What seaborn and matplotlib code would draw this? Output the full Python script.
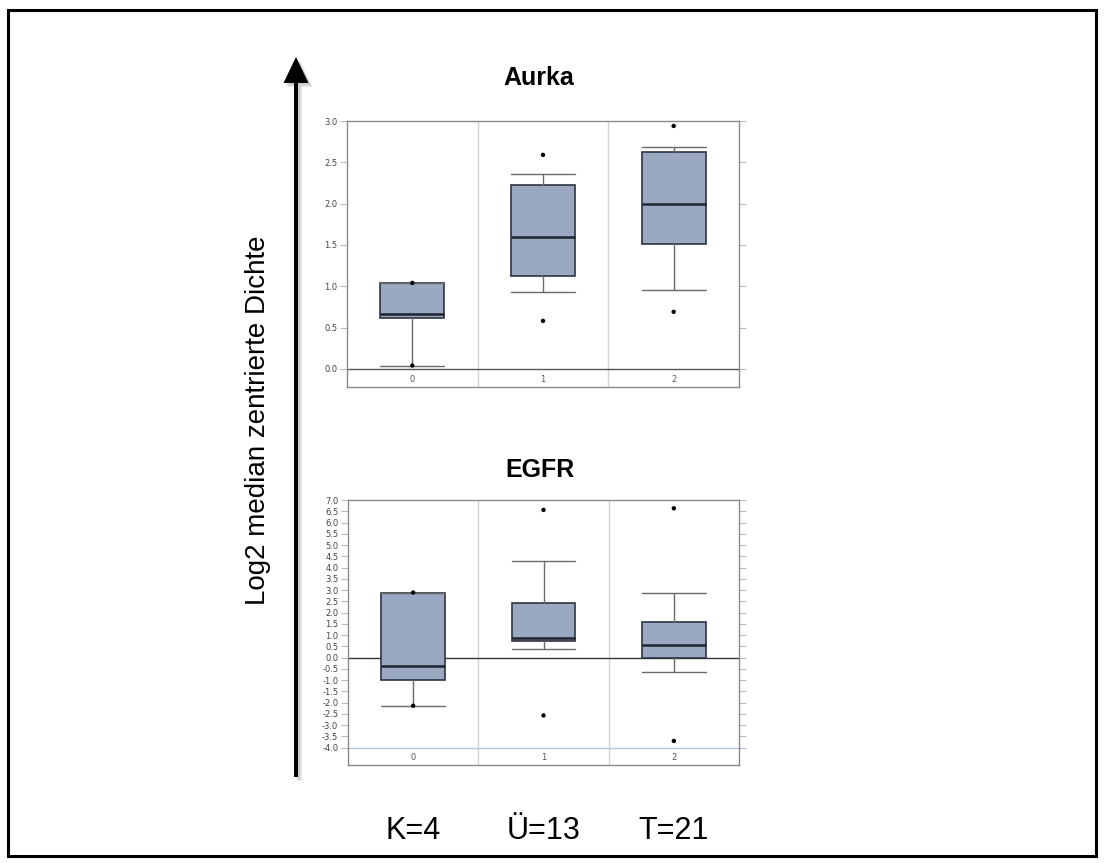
import matplotlib
matplotlib.use("Agg")
import matplotlib.pyplot as plt
import seaborn as sns
import pandas as pd
from matplotlib.patches import Rectangle, FancyArrow
from matplotlib.transforms import IdentityTransform, blended_transform_factory

sns.set_theme(style="white")
plt.rcParams["font.family"] = ["Liberation Sans", "DejaVu Sans"]

# ---------------- data ----------------
categories = ["0", "1", "2"]
group_labels = ["K=4", "Ü=13", "T=21"]
titles = ["Aurka", "EGFR"]
y_label = "Log2 median zentrierte Dichte"

aurka_whislo = [0.04, 0.93, 0.95]
aurka_q1 = [0.61, 1.12, 1.51]
aurka_med = [0.66, 1.59, 1.99]
aurka_q3 = [1.04, 2.22, 2.63]
aurka_whishi = [1.04, 2.36, 2.69]
aurka_min = [0.04, 0.58, 0.69]
aurka_max = [1.04, 2.59, 2.94]
aurka_ticks = [0.0, 0.5, 1.0, 1.5, 2.0, 2.5, 3.0]

egfr_whislo = [-2.14, 0.39, -0.63]
egfr_q1 = [-0.98, 0.74, -0.02]
egfr_med = [-0.37, 0.89, 0.58]
egfr_q3 = [2.89, 2.41, 1.59]
egfr_whishi = [2.89, 4.29, 2.89]
egfr_min = [-2.14, -2.57, -3.70]
egfr_max = [2.89, 6.56, 6.63]
egfr_ticks = [-4.0, -3.5, -3.0, -2.5, -2.0, -1.5, -1.0, -0.5, 0.0, 0.5, 1.0,
              1.5, 2.0, 2.5, 3.0, 3.5, 4.0, 4.5, 5.0, 5.5, 6.0, 6.5, 7.0]

W, H = 1104, 863
fig = plt.figure(figsize=(W / 100, H / 100), dpi=100)
fig.patch.set_facecolor("white")

BOX_FILL = "#9aa8c2"
BOX_EDGE = "#2e3442"
WHISK = "#6a6a6a"
FRAME = "#8a8a8a"


def draw_panel(ax, whislo, q1, med, q3, whishi, vmin, vmax, ticks, ylim,
               zero_color, base_line=None):
    stats = []
    for i in range(len(categories)):
        stats.append(dict(whislo=whislo[i], q1=q1[i], med=med[i], q3=q3[i],
                          whishi=whishi[i], fliers=[], label=categories[i]))
    ax.bxp(stats, positions=list(range(len(categories))), widths=0.49,
           patch_artist=True, showfliers=False,
           boxprops=dict(facecolor=BOX_FILL, edgecolor=BOX_EDGE, linewidth=1.2),
           medianprops=dict(color="#1f2430", linewidth=1.8),
           whiskerprops=dict(color=WHISK, linewidth=1.0),
           capprops=dict(color=WHISK, linewidth=1.0),
           capwidths=0.49)
    pts = pd.DataFrame({
        "x": list(range(len(categories))) * 2,
        "y": list(vmin) + list(vmax),
    })
    sns.scatterplot(data=pts, x="x", y="y", ax=ax, color="black", s=10,
                    edgecolor="none", zorder=5, legend=False)
    ax.set_xlim(-0.5, len(categories) - 0.5)
    ax.set_ylim(*ylim)
    ax.set_yticks(ticks)
    ax.set_yticklabels([f"{t:.1f}" for t in ticks], fontfamily="DejaVu Sans",
                       fontsize=6, color="#444444")
    ax.set_xticks(list(range(len(categories))))
    ax.set_xticklabels(categories, fontfamily="DejaVu Sans", fontsize=6,
                       color="#555555")
    ax.tick_params(axis="x", length=0, pad=-9)
    ax.tick_params(axis="y", left=True, right=True, length=5, width=0.8,
                   color="#bbbbbb", pad=2)
    for x in [0.5, 1.5]:
        ax.axvline(x, color="#d4d4d4", lw=1.0, zorder=0)
    ax.axhline(0, color=zero_color, lw=1.0, zorder=1)
    if base_line is not None:
        ax.axhline(base_line, color="#b4c6e0", lw=1.0, zorder=1)
    for s in ax.spines.values():
        s.set_color(FRAME)
        s.set_linewidth(1.0)
    ax.set_xlabel("")
    ax.set_ylabel("")
    ax.grid(False)


def ax_rect(l, t, r, b):
    return [l / W, 1 - b / H, (r - l) / W, (b - t) / H]


ax1 = fig.add_axes(ax_rect(347, 121, 739, 387))
draw_panel(ax1, aurka_whislo, aurka_q1, aurka_med, aurka_q3, aurka_whishi,
           aurka_min, aurka_max, aurka_ticks, (-0.22, 3.0), "#555555")
ax1.text(0.49, 1.162, titles[0], transform=ax1.transAxes, ha="center",
         va="center", fontsize=18, fontweight="bold", color="black")

ax2 = fig.add_axes(ax_rect(348, 500, 739, 765))
draw_panel(ax2, egfr_whislo, egfr_q1, egfr_med, egfr_q3, egfr_whishi,
           egfr_min, egfr_max, egfr_ticks, (-4.77, 7.0), "#333333",
           base_line=-4.0)
ax2.text(0.491, 1.113, titles[1], transform=ax2.transAxes, ha="center",
         va="center", fontsize=18, fontweight="bold", color="black")

# group labels under lower panel
tr = blended_transform_factory(ax2.transData, fig.transFigure)
for i, lab in enumerate(group_labels):
    fig.text(i, 1 - 831 / H, lab, transform=tr, ha="center", va="center",
             fontsize=22, color="black")

# y label
fig.text(258 / W, 1 - 420 / H, y_label, rotation=90, ha="center",
         va="center", fontsize=20, color="black")

# arrow with soft shadow
for dx, dy, col, al in [(4, -4, "#000000", 0.08), (2.5, -2.5, "#000000", 0.12)]:
    sh = FancyArrow(296 + dx, H - 777 + dy, 0, 777 - 57, width=4,
                    head_width=25, head_length=26, length_includes_head=True,
                    color=col, alpha=al, transform=IdentityTransform(),
                    linewidth=0)
    fig.add_artist(sh)
arrow = FancyArrow(296, H - 777, 0, 777 - 57, width=4, head_width=25,
                   head_length=26, length_includes_head=True, color="black",
                   transform=IdentityTransform(), linewidth=0)
fig.add_artist(arrow)

# outer frame
frame = Rectangle((8, H - 856), 1096 - 8, 856 - 10, fill=False,
                  edgecolor="black", linewidth=2.2,
                  transform=IdentityTransform())
fig.add_artist(frame)

fig.savefig("out.png", dpi=100)
